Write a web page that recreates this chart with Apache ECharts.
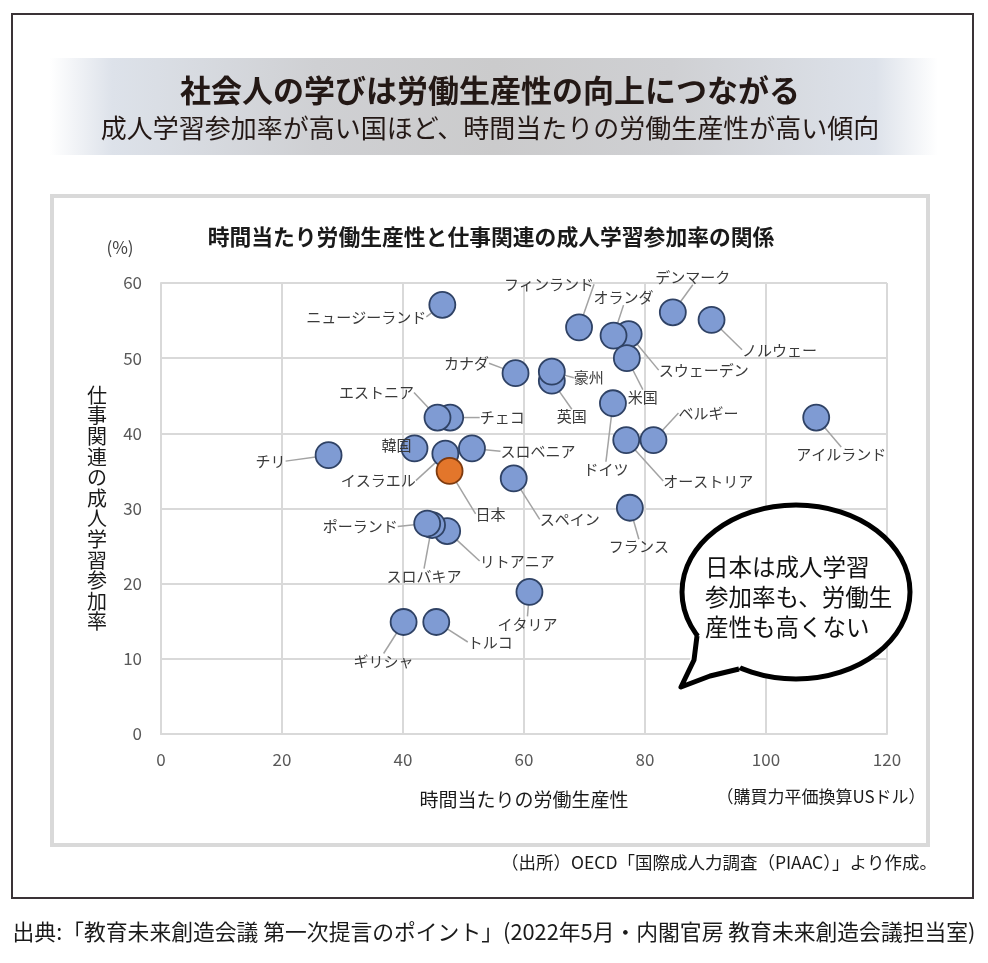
<!DOCTYPE html>
<html>
<head>
<meta charset="utf-8">
<script src="https://cdn.jsdelivr.net/npm/echarts@6/dist/echarts.min.js"></script>
<style>
html,body{margin:0;padding:0;background:#fff;}
#chart{width:988px;height:963px;}
</style>
</head>
<body>
<div id="chart"></div>
<script>
// ---- data ----
const countries = ['チリ','ギリシャ','トルコ','韓国','イスラエル','日本','チェコ','エストニア','ニュージーランド','リトアニア','スロバキア','ポーランド','スロベニア','スペイン','カナダ','イタリア','英国','豪州','フィンランド','スウェーデン','オランダ','米国','ドイツ','フランス','オーストリア','ベルギー','デンマーク','ノルウェー','アイルランド'];
const productivity = [27.7,40.1,45.5,41.9,47.0,47.7,47.8,45.7,46.5,47.3,44.8,44.0,51.4,58.3,58.6,60.9,64.6,64.6,69.1,77.3,74.8,77.0,74.7,77.5,76.9,81.4,84.6,91.0,108.3];
const participation = [37.1,14.9,14.9,38.0,37.3,35.0,42.1,42.1,57.1,27.0,27.8,28.0,38.0,34.0,48.0,18.9,47.0,48.2,54.1,53.2,53.0,50.0,44.0,30.1,39.1,39.1,56.1,55.1,42.1];
const highlight = '日本';
const xTicks = {min: 0, max: 120, interval: 20};
const yTicks = {min: 0, max: 60, interval: 10};

// ---- label placement (pixel offsets of label centre from marker, leader style) ----
const labelPlacement = {
  'チリ':[-58,6,'h'], 'ギリシャ':[-20,39,'v'], 'トルコ':[54,20,'h'], '韓国':[-18,-3,'n'],
  'イスラエル':[-67,27,'h'], '日本':[41,43,'h'], 'チェコ':[52,0,'h'], 'エストニア':[-61,-25,'h'],
  'ニュージーランド':[-76,12,'h'], 'リトアニア':[70,30,'h'], 'スロバキア':[-8,51,'v'], 'ポーランド':[-67,3,'h'],
  'スロベニア':[66,3,'h'], 'スペイン':[56,41,'h'], 'カナダ':[-49,-10,'h'], 'イタリア':[-2,32,'v'],
  '英国':[20,36,'v'], '豪州':[37,6,'h'], 'フィンランド':[-30,-43,'v'], 'スウェーデン':[75,36,'h'],
  'オランダ':[10,-38,'v'], '米国':[16,39,'h'], 'ドイツ':[-7,66,'v'], 'フランス':[9,39,'v'],
  'オーストリア':[82,41,'h'], 'ベルギー':[55,-27,'h'], 'デンマーク':[20,-35,'v'], 'ノルウェー':[68,30,'h'],
  'アイルランド':[25,37,'v']
};

const FONT = '"Noto Sans CJK JP", "Noto Sans", sans-serif';
const chart = echarts.init(document.getElementById('chart'), null, {renderer: 'canvas'});

const data = countries.map((c, i) => {
  const item = {name: c, value: [productivity[i], participation[i]]};
  if (c === highlight) {
    item.itemStyle = {color: '#e3762b', borderColor: '#7e3a0e'};
  }
  return item;
});

function layoutLabel(params) {
  const name = countries[params.dataIndex];
  const p = labelPlacement[name];
  const cx = params.rect.x + params.rect.width / 2;
  const cy = params.rect.y + params.rect.height / 2;
  const lx = cx + p[0], ly = cy + p[1];
  const w = params.labelRect.width, h = params.labelRect.height;
  const out = {x: lx, y: ly, align: 'center', verticalAlign: 'middle'};
  if (p[2] === 'h') {
    const sign = p[0] > 0 ? 1 : -1;
    const edgeX = lx - sign * (w / 2 + 3);
    const elbowX = edgeX - sign * Math.min(10, Math.abs(edgeX - cx));
    out.labelLinePoints = [[cx, cy], [elbowX, ly], [edgeX, ly]];
  } else if (p[2] === 'v') {
    const sign = p[1] > 0 ? 1 : -1;
    const edgeY = ly - sign * (h / 2 + 1);
    out.labelLinePoints = [[cx, cy], [lx, edgeY], [lx, edgeY]];
  } else {
    out.labelLinePoints = [[cx, cy], [cx, cy], [cx, cy]];
  }
  return out;
}

const gridColor = '#d9d9d9';
const option = {
  animation: false,
  textStyle: {fontFamily: FONT},
  grid: {left: 161, right: 101, top: 283, bottom: 229},
  xAxis: {
    type: 'value', min: xTicks.min, max: xTicks.max, interval: xTicks.interval,
    axisLine: {show: true, lineStyle: {color: gridColor, width: 2}},
    axisTick: {show: false},
    splitLine: {show: true, lineStyle: {color: gridColor, width: 2}},
    axisLabel: {color: '#595959', fontSize: 17, margin: 17, fontFamily: FONT}
  },
  yAxis: {
    type: 'value', min: yTicks.min, max: yTicks.max, interval: yTicks.interval,
    axisLine: {show: true, lineStyle: {color: gridColor, width: 2}},
    axisTick: {show: false},
    splitLine: {show: true, lineStyle: {color: gridColor, width: 2}},
    axisLabel: {color: '#595959', fontSize: 17, margin: 19, fontFamily: FONT}
  },
  series: [{
    type: 'scatter',
    data: data,
    symbolSize: 26,
    itemStyle: {color: '#7f9bd3', borderColor: '#2f4265', borderWidth: 1.8, opacity: 1},
    label: {show: true, position: 'inside', formatter: '{b}', color: '#3a3a3a', fontSize: 15, fontFamily: FONT},
    labelLine: {show: true, lineStyle: {color: '#a3a3a3', width: 1.5}},
    labelLayout: layoutLabel,
    emphasis: {disabled: true},
    z: 3
  }],
  graphic: [
    {type: 'rect', z: -10, shape: {x: 12, y: 14, width: 961, height: 884}, style: {fill: '#fff', stroke: '#3a3336', lineWidth: 2}},
    {type: 'rect', z: -9, shape: {x: 50, y: 58, width: 888, height: 97},
      style: {fill: new echarts.graphic.LinearGradient(0, 0, 1, 0, [
        {offset: 0, color: '#ffffff'}, {offset: 0.07, color: '#dde2ea'}, {offset: 0.3, color: '#cfd0d3'},
        {offset: 0.5, color: '#cbcbcc'}, {offset: 0.7, color: '#cfd0d3'}, {offset: 0.93, color: '#dde2ea'}, {offset: 1, color: '#ffffff'}])}},
    {type: 'text', z: 5, style: {text: '社会人の学びは労働生産性の向上につながる', x: 490, y: 90, align: 'center', verticalAlign: 'middle', font: 'bold 31px ' + FONT, fill: '#231815'}},
    {type: 'text', z: 5, style: {text: '成人学習参加率が高い国ほど、時間当たりの労働生産性が高い傾向', x: 490, y: 128, align: 'center', verticalAlign: 'middle', font: '26px ' + FONT, fill: '#231815'}},
    {type: 'rect', z: -9, shape: {x: 52, y: 196, width: 876, height: 649}, style: {fill: 'none', stroke: '#d9d9d9', lineWidth: 4}},
    {type: 'text', z: 5, style: {text: '時間当たり労働生産性と仕事関連の成人学習参加率の関係', x: 491, y: 237, align: 'center', verticalAlign: 'middle', font: 'bold 21.8px ' + FONT, fill: '#1a1a1a'}},
    {type: 'text', z: 5, style: {text: '(%)', x: 120, y: 248, align: 'center', verticalAlign: 'middle', font: '17px ' + FONT, fill: '#404040'}},
    {type: 'text', z: 5, style: {text: '仕事関連の成人学習参加率'.split('').join('\n'), x: 97, y: 385, align: 'center', verticalAlign: 'top', font: '20px ' + FONT, lineHeight: 20.6, fill: '#1a1a1a'}},
    {type: 'text', z: 5, style: {text: '時間当たりの労働生産性', x: 524, y: 800, align: 'center', verticalAlign: 'middle', font: '19px ' + FONT, fill: '#1a1a1a'}},
    {type: 'text', z: 5, style: {text: '（購買力平価換算USドル）', x: 821, y: 797, align: 'center', verticalAlign: 'middle', font: '17px ' + FONT, fill: '#1a1a1a'}},
    {type: 'text', z: 5, style: {text: '（出所）OECD「国際成人力調査（PIAAC）」より作成。', x: 937, y: 862, align: 'right', verticalAlign: 'middle', font: '17.5px ' + FONT, fill: '#1a1a1a'}},
    {type: 'text', z: 5, style: {text: '出典:「教育未来創造会議 第一次提言のポイント」(2022年5月・内閣官房 教育未来創造会議担当室)', x: 494, y: 932, align: 'center', verticalAlign: 'middle', font: '21.8px ' + FONT, fill: '#1a1a1a'}},
    {type: 'ellipse', z: 100, shape: {cx: 796, cy: 592, rx: 114, ry: 87}, style: {fill: '#ffffff', stroke: '#000000', lineWidth: 5}},
    {type: 'polygon', z: 101, shape: {points: [[706, 626], [697, 638], [681, 687], [738, 670], [746, 659]]}, style: {fill: '#ffffff', stroke: 'none'}},
    {type: 'polyline', z: 102, shape: {points: [[697, 636], [694, 660], [681, 687], [710, 676], [739, 669]]}, style: {stroke: '#000000', lineWidth: 5, lineJoin: 'round', fill: 'none'}},
    {type: 'text', z: 103, style: {text: '日本は成人学習\n参加率も、労働生\n産性も高くない', x: 705, y: 552, align: 'left', verticalAlign: 'top', font: '23.5px ' + FONT, lineHeight: 30, fill: '#111111'}}
  ]
};
chart.setOption(option);
</script>
</body>
</html>
